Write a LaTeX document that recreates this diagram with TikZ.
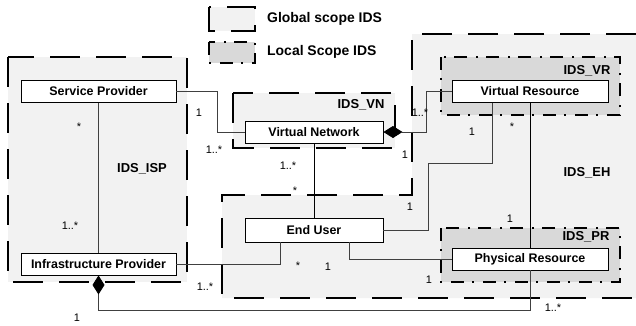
\documentclass[tikz,border=0pt]{standalone}
\usepackage{fontspec}
\setmainfont{Liberation Sans}
\usetikzlibrary{arrows.meta,calc}

\definecolor{globalgray}{gray}{0.95}
\definecolor{localgray}{gray}{0.85}

\tikzset{
	classbox/.style={draw, line width=0.9bp, fill=white, minimum height=22bp, inner sep=0pt, font=\fontsize{12.5}{14}\selectfont\bfseries},
	globalscope/.style={line width=1.8bp, dash pattern=on 30bp off 16bp},
	localscope/.style={line width=1.8bp, dash pattern=on 13bp off 8bp on 2bp off 9bp},
	conn/.style={line width=0.8bp, color=black!75},
	mult/.style={font=\fontsize{11}{12}\selectfont, inner sep=0pt},
	scopelabel/.style={font=\fontsize{13}{14}\selectfont\bfseries, inner sep=0pt},
	legendlabel/.style={font=\fontsize{14}{15}\selectfont\bfseries, inner sep=0pt, anchor=west},
	diam/.style={{Diamond[length=19bp, width=12bp, color=black]}-}
}

\begin{document}
\begin{tikzpicture}[x=1bp, y=-1bp]
		%%%%% START %%%%%
		\useasboundingbox (0, 0) rectangle (636, 325);
		
		% legend
		\draw[globalscope, fill=globalgray] (209, 7) rectangle (255, 31);
		\node[legendlabel] (lgglobal) at (267, 19) {Global scope IDS};
		\draw[localscope, fill=localgray] (209, 42) rectangle (255, 63);
		\node[legendlabel] (lglocal) at (267, 52) {Local Scope IDS};
		
		% scopes
		\fill[globalgray] (412, 34) -- (636, 34) -- (636, 298) -- (222, 298) -- (222, 195) -- (412, 195) -- cycle;
		\draw[globalscope] (636, 34) -- (412, 34) -- (412, 195) -- (222, 195) -- (222, 298) -- (636, 298);
		\draw[globalscope, fill=globalgray] (8, 57) rectangle (187, 282);
		\draw[globalscope, fill=globalgray] (233, 93) rectangle (395, 148);
		\draw[localscope, fill=localgray] (441, 57) rectangle (620, 115);
		\draw[localscope, fill=localgray] (441, 228) rectangle (620, 282);
		
		\node[scopelabel] (isplabel) at (142, 169) {IDS\_ISP};
		\node[scopelabel] (vnlabel) at (361, 105) {IDS\_VN};
		\node[scopelabel] (vrlabel) at (587, 71) {IDS\_VR};
		\node[scopelabel] (ehlabel) at (587, 173) {IDS\_EH};
		\node[scopelabel] (prlabel) at (586, 237) {IDS\_PR};
		
		% classes
		\node[classbox, minimum width=155bp] (sp) at (98.5, 91.5) {Service Provider};
		\node[classbox, minimum width=155bp] (ip) at (98.5, 264) {Infrastructure Provider};
		\node[classbox, minimum width=138bp] (vn) at (314, 132) {Virtual Network};
		\node[classbox, minimum width=138bp, minimum height=24bp] (eu) at (314, 230) {End User};
		\node[classbox, minimum width=156bp] (vr) at (530, 91.5) {Virtual Resource};
		\node[classbox, minimum width=156bp] (pr) at (530, 259) {Physical Resource};
		
		% associations
		\draw[conn] (sp.south) -- (ip.north);
		\draw[conn] (sp.east) -- ++(41, 0) |- (vn.west);
		\draw[conn, color=black] (vn.south) -- (eu.north);
		\draw[conn, diam] (vn.east) -- ++(43, 0) |- (vr.west);
		\draw[conn] ([xshift=-38bp]vr.south) -- ++(0, 60) -| ([xshift=45bp]eu.east) -- (eu.east);
		\draw[conn, color=black] (vr.south) -- (pr.north);
		\draw[conn] ([xshift=-34bp]eu.south) |- (ip.east);
		\draw[conn] ([xshift=35bp]eu.south) |- (pr.west);
		\draw[conn, diam] (ip.south) -- ++(0, 35) -| (pr.south);
		
		% multiplicities
		\node[mult] (m1) at (79, 127) {*};
		\node[mult] (m2) at (70, 226) {1..*};
		\node[mult] (m3) at (199, 113) {1};
		\node[mult] (m4) at (214, 150) {1..*};
		\node[mult] (m5) at (288, 166) {1..*};
		\node[mult] (m6) at (295, 191) {*};
		\node[mult] (m7) at (420, 113) {1..*};
		\node[mult] (m8) at (405, 155) {1};
		\node[mult] (m9) at (472, 132) {1};
		\node[mult] (m10) at (512, 127) {*};
		\node[mult] (m11) at (410, 207) {1};
		\node[mult] (m12) at (510, 219) {1};
		\node[mult] (m13) at (298, 266) {*};
		\node[mult] (m14) at (328, 267) {1};
		\node[mult] (m15) at (429, 280) {1};
		\node[mult] (m16) at (205, 287) {1..*};
		\node[mult] (m17) at (77, 318) {1};
		\node[mult] (m18) at (553, 308) {1..*};
		%%%%% END %%%%%
	\end{tikzpicture}
\end{document}
